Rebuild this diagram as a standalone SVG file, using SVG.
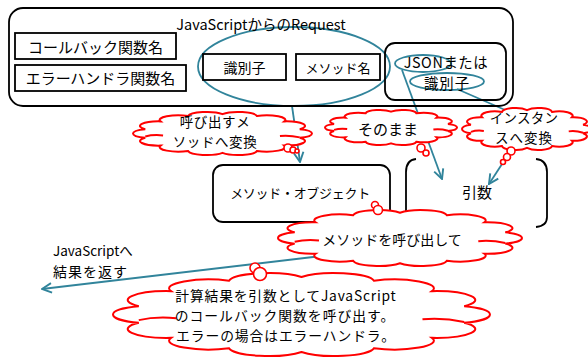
<svg xmlns="http://www.w3.org/2000/svg" xmlns:xlink="http://www.w3.org/1999/xlink" width="588" height="361" viewBox="0 0 588 361">
<style>
.box{fill:none;stroke:#000;stroke-width:1.8}
.t{font-family:"Noto Sans CJK JP","Noto Sans",sans-serif;fill:#000;text-anchor:middle}
.tl{font-family:"Noto Sans CJK JP","Noto Sans",sans-serif;fill:#000}
.conn{fill:none;stroke:#31849B;stroke-width:1.8}
.cl{fill:#fff;stroke:#f00;stroke-width:2;vector-effect:non-scaling-stroke}
.cli{fill:none;stroke:#f00;stroke-width:2;vector-effect:non-scaling-stroke}
.tc{fill:#fff;stroke:#f00;stroke-width:1.6}
</style>
<defs>
<marker id="arr" markerUnits="userSpaceOnUse" markerWidth="12" markerHeight="12" viewBox="0 0 10 10" refX="9" refY="5" orient="auto">
<path d="M1,1 L9,5 L1,9" fill="none" stroke="#31849B" stroke-width="1.6"/>
</marker>
<g id="cloud">
<path class="cl" d="M89,41.1 A9.5,9.5 0 0 1 89,58.9 A9.5,9.5 0 0 1 81.27,74.94 A9.5,9.5 0 0 1 67.36,86.04 A9.5,9.5 0 0 1 50,90 A9.5,9.5 0 0 1 32.64,86.04 A9.5,9.5 0 0 1 18.73,74.94 A9.5,9.5 0 0 1 11,58.9 A9.5,9.5 0 0 1 11,41.1 A9.5,9.5 0 0 1 18.73,25.06 A9.5,9.5 0 0 1 32.64,13.96 A9.5,9.5 0 0 1 50,10 A9.5,9.5 0 0 1 67.36,13.96 A9.5,9.5 0 0 1 81.27,25.06 A9.5,9.5 0 0 1 89,41.1 Z"/>
<path class="cli" d="M11,56 Q15,52 20,54"/>
<path class="cli" d="M89,58 Q84,53 79,55"/>
</g>
</defs>

<!-- connectors (under clouds) -->
<g id="connectors">
<ellipse class="conn" cx="294" cy="66.5" rx="96" ry="39.5"/>
<ellipse class="conn" cx="423" cy="63.5" rx="28" ry="8.5"/>
<ellipse class="conn" cx="447" cy="81.5" rx="37" ry="8.5"/>
<line class="conn" x1="292" y1="106" x2="300" y2="162" marker-end="url(#arr)"/>
<line class="conn" x1="402" y1="70" x2="442" y2="179" marker-end="url(#arr)"/>
<line class="conn" x1="457" y1="89" x2="512" y2="113"/>
<line class="conn" x1="504" y1="161" x2="489" y2="184" marker-end="url(#arr)"/>
<line class="conn" x1="330" y1="255" x2="42" y2="289" marker-end="url(#arr)"/>
</g>

<g id="request">
<rect class="box" x="9" y="8" width="504" height="98" rx="14"/>
<text class="t" x="261" y="30" font-size="14.5">JavaScriptからのRequest</text>
</g>
<g id="callback-name">
<rect class="box" x="15" y="33" width="161" height="26"/>
<text class="t" x="95.5" y="53" font-size="15">コールバック関数名</text>
</g>
<g id="error-handler-name">
<rect class="box" x="15" y="65" width="171" height="26"/>
<text class="t" x="100.5" y="84" font-size="15">エラーハンドラ関数名</text>
</g>
<g id="identifier">
<rect class="box" x="203" y="54" width="83" height="26"/>
<text class="t" x="244.5" y="73" font-size="14">識別子</text>
</g>
<g id="method-name">
<rect class="box" x="296" y="54" width="84" height="26"/>
<text class="t" x="338" y="73" font-size="13">メソッド名</text>
</g>
<g id="json">
<rect class="box" x="385" y="43" width="121" height="57" rx="10"/>
<text class="t" x="446" y="68" font-size="14.4" letter-spacing="0.6">JSONまたは</text>
<text class="t" x="447" y="89" font-size="14.4" letter-spacing="1">識別子</text>
</g>

<g id="method-object">
<rect class="box" x="213" y="165" width="177" height="57" rx="10"/>
<text class="t" x="300" y="198" font-size="13" letter-spacing="-0.3">メソッド・オブジェクト</text>
</g>
<g id="args">
<path class="box" d="M416,159 Q406,160 406,172 L406,226"/>
<path class="box" d="M536,159 Q547,160 547,172 L547,217 Q547,226 536,227"/>
<text class="t" x="477" y="198" font-size="15">引数</text>
</g>

<g id="cloud-convert-method">
<use xlink:href="#cloud" href="#cloud" transform="translate(133,112) scale(1.981,0.4855) translate(-4.82,-5.72)"/>
<circle class="tc" cx="288" cy="148" r="4"/>
<circle class="tc" cx="293" cy="150" r="3"/>
<circle class="tc" cx="297" cy="151" r="2"/>
<text class="t" x="215" y="127" font-size="13.5" letter-spacing="0.6">呼び出すメ</text>
<text class="t" x="215" y="147" font-size="13.5" letter-spacing="0.6">ソッドへ変換</text>
</g>
<g id="cloud-as-is">
<use xlink:href="#cloud" href="#cloud" transform="translate(325,110) scale(1.461,0.3952) translate(-4.82,-5.72)"/>
<circle class="tc" cx="421" cy="148" r="4"/>
<circle class="tc" cx="426" cy="153" r="3"/>
<text class="t" x="388" y="135" font-size="15">そのまま</text>
</g>
<g id="cloud-instance">
<use xlink:href="#cloud" href="#cloud" transform="translate(462,108) scale(1.4387,0.4743) translate(-4.82,-5.72)"/>
<circle class="tc" cx="511" cy="151" r="4"/>
<circle class="tc" cx="507" cy="157" r="3.5"/>
<circle class="tc" cx="503" cy="162" r="2.5"/>
<text class="t" x="524" y="123" font-size="13.5" letter-spacing="0.3">インスタン</text>
<text class="t" x="524" y="143" font-size="13.5" letter-spacing="1">スへ変換</text>
</g>
<g id="cloud-call-method">
<use xlink:href="#cloud" href="#cloud" transform="translate(278,210) scale(2.7,0.6323) translate(-4.82,-5.72)"/>
<circle class="tc" cx="375" cy="205" r="3.5"/>
<circle class="tc" cx="378" cy="210" r="4.5"/>
<text class="t" x="392" y="245" font-size="14">メソッドを呼び出して</text>
</g>
<g id="return-label">
<text class="tl" x="53" y="256" font-size="13.5">JavaScriptへ</text>
<text class="tl" x="53" y="277" font-size="14" letter-spacing="1">結果を返す</text>
</g>
<g id="cloud-result">
<use xlink:href="#cloud" href="#cloud" transform="translate(113,273) scale(4.172,0.9372) translate(-4.82,-5.72)"/>
<circle class="tc" cx="255" cy="268" r="5"/>
<circle class="tc" cx="260" cy="274" r="6.5"/>
<text class="t" x="286" y="301" font-size="13.8" letter-spacing="0.8">計算結果を引数としてJavaScript</text>
<text class="t" x="285" y="321" font-size="13.8" letter-spacing="1">のコールバック関数を呼び出す。</text>
<text class="t" x="286" y="341" font-size="13.8" letter-spacing="0.9">エラーの場合はエラーハンドラ。</text>
</g>
</svg>
